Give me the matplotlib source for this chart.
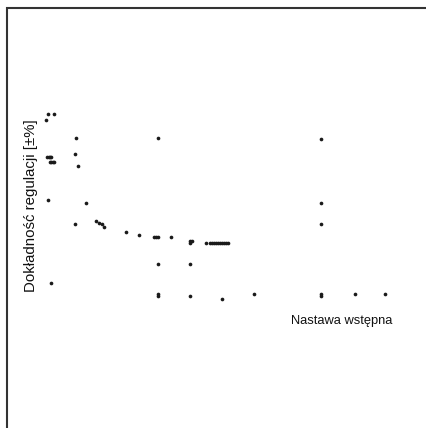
import matplotlib
matplotlib.use("Agg")
import matplotlib.pyplot as plt
from matplotlib.patches import Rectangle

# Data: presetting value vs. control accuracy [±%]
x_vals = [0.6, 0.83, 1.37, 3.57, 3.5, 3.77,
          0.7, 0.85, 1.0, 1.1,
          0.95, 1.1, 1.25, 1.4,
          0.83, 4.57, 3.5,
          5.6, 5.9, 6.17, 6.43,
          8.57, 9.93, 11.4, 11.6, 11.8, 13.1,
          15.0, 15.2, 15.0, 16.6,
          17.0, 17.2, 17.4, 17.6, 17.8, 18.0, 18.2, 18.4, 18.6, 18.8,
          11.77, 11.77, 14.97, 11.77, 11.77, 14.97, 18.17, 21.37,
          1.1, 28.07, 28.07, 28.07, 28.07, 28.07, 31.53, 34.47]
y_vals = [19.0, 19.57, 19.57, 17.17, 15.57, 14.43,
          15.3, 15.3, 15.3, 15.3,
          14.8, 14.8, 14.8, 14.8,
          11.0, 10.73, 8.6,
          8.9, 8.67, 8.6, 8.33,
          7.77, 7.5, 7.33, 7.33, 7.33, 7.33,
          6.95, 6.95, 6.7, 6.73,
          6.73, 6.73, 6.73, 6.73, 6.73, 6.73, 6.73, 6.73, 6.73, 6.73,
          17.17, 4.57, 4.57, 1.65, 1.45, 1.4, 1.1, 1.63,
          2.67, 17.13, 10.73, 8.57, 1.65, 1.4, 1.63, 1.63]

y_label = "Dokładność regulacji [±%]"
x_label = "Nastawa wstępna"

W, H = 427, 428
fig = plt.figure(figsize=(W / 100, H / 100), dpi=100)
fig.patch.set_facecolor("white")

# axes: pixel x 40..400 -> 0..36, pixel y 310..100 -> 0..21
ax = fig.add_axes([40 / W, 1 - 310 / H, 360 / W, 210 / H])
ax.set_xlim(0, 36)
ax.set_ylim(0, 21)
ax.axis("off")
ax.scatter(x_vals, y_vals, s=7, marker="o", color="#1a1a1a", linewidths=0)

# outer frame (left and top edges visible)
fig.patches.append(Rectangle((7 / W, -0.5), 2.0, 1 - 8 / H + 0.5,
                             transform=fig.transFigure, fill=False,
                             edgecolor="#333333", linewidth=1.5))

fig.text(31 / W, 1 - 206 / H, y_label, rotation=90, ha="center", va="center",
         fontsize=10.8, family=["Liberation Sans", "DejaVu Sans"], color="#111111")
fig.text(392 / W, 1 - 321 / H, x_label, ha="right", va="center",
         fontsize=9.3, family=["Liberation Sans", "DejaVu Sans"], color="#111111")

fig.savefig("out.png", dpi=100, facecolor="white")
